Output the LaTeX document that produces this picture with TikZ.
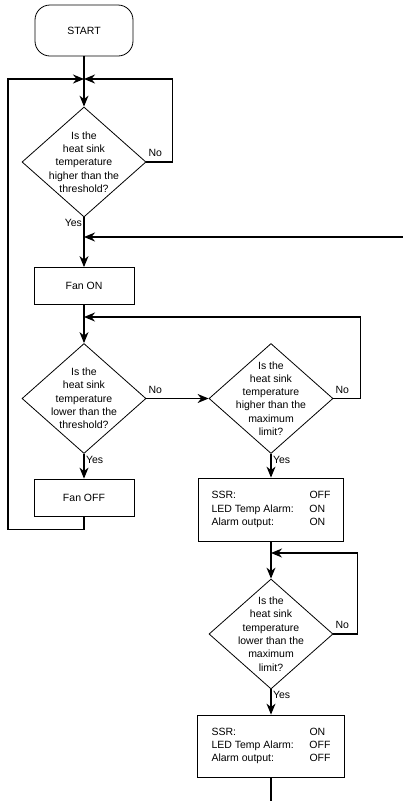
\documentclass[tikz,border=0pt]{standalone}
\usepackage{fontspec}
\setmainfont{Liberation Sans}
\usetikzlibrary{shapes.geometric}
\usetikzlibrary{arrows.meta}

\begin{document}
\begin{tikzpicture}[x=1pt,y=-1pt,
        font=\fontsize{10.5}{13.3}\selectfont,
        line/.style={line width=1.2pt},
        flow/.style={line width=1.2pt, -{Stealth[length=11pt,width=9pt,inset=3.5pt]}},
        box/.style={draw, line width=0.8pt, minimum width=100pt, minimum height=37pt, inner sep=0pt},
        test/.style={draw, diamond, line width=0.8pt, inner sep=-20pt, minimum width=124pt, minimum height=110pt, align=center},
        lbl/.style={inner sep=1.5pt}]
        \useasboundingbox (0,0) rectangle (403,801);
        %%%NODES%%%
        \node[box, rounded corners=15pt, minimum width=98pt, minimum height=51pt] (start) at (84,30.5) {START};
        \node[test] (q1) at (84,162) {Is the\\heat sink\\temperature\\higher than the\\threshold?};
        \node[box] (fanon) at (84,286) {Fan ON};
        \node[test] (q2) at (84,398.5) {Is the\\heat sink\\temperature\\lower than the\\threshold?};
        \node[test] (q3) at (271,398.5) {Is the\\heat sink\\temperature\\higher than the\\maximum\\limit?};
        \node[box] (fanoff) at (84,497.5) {Fan OFF};
        \node[box, minimum width=145pt, minimum height=63pt] (alarm1) at (271,509.5)
            {\begin{tabular}{@{}p{98pt}@{}l@{}}SSR: & OFF\\LED Temp Alarm: & ON\\Alarm output: & ON\end{tabular}};
        \node[test] (q4) at (271,634) {Is the\\heat sink\\temperature\\lower than the\\maximum\\limit?};
        \node[box, minimum width=147pt, minimum height=62pt] (alarm2) at (271,746)
            {\begin{tabular}{@{}p{98pt}@{}l@{}}SSR: & ON\\LED Temp Alarm: & OFF\\Alarm output: & OFF\end{tabular}};
        %points
        \coordinate (j1) at (84,79);
        \coordinate (lft) at (8,79);
        \coordinate (j2) at (84,237);
        \coordinate (back) at (403,237);
        \coordinate (j3) at (84,317);
        \coordinate (j4) at (271,553);
        \coordinate (end) at (271,801);
        %%%CONNECTORS%%%
        \draw[line] (start) -- (j1);
        \draw[flow] (j1) -- (q1);
        \draw[flow] (q1.east) -- node[pos=0, anchor=south west, lbl, yshift=3pt]{No} ++(26,0) |- (j1);
        \draw[flow] (fanoff.south) -- ++(0,13) -| (lft) -- (j1);
        \draw[flow] (q1) -- node[pos=0, anchor=north east, lbl]{Yes} (fanon);
        \draw[flow] (back) -- (j2);
        %next
        \draw[flow] (fanon) -- (q2);
        \draw[flow] (q2) -- node[pos=0, anchor=south west, lbl, yshift=3pt]{No} (q3);
        \draw[flow] (q3.east) -- node[pos=0, anchor=south west, lbl, yshift=3pt]{No} ++(27,0) |- (j3);
        \draw[flow] (q2) -- node[pos=0, anchor=north west, lbl]{Yes} (fanoff);
        \draw[flow] (q3) -- node[pos=0, anchor=north west, lbl]{Yes} (alarm1);
        %alarm
        \draw[flow] (alarm1) -- (q4);
        \draw[flow] (q4.east) -- node[pos=0, anchor=south west, lbl, yshift=3pt]{No} ++(24,0) |- (j4);
        \draw[flow] (q4) -- node[pos=0, anchor=north west, lbl]{Yes} (alarm2);
        \draw[line] (alarm2) -- (end);
    \end{tikzpicture}
\end{document}
